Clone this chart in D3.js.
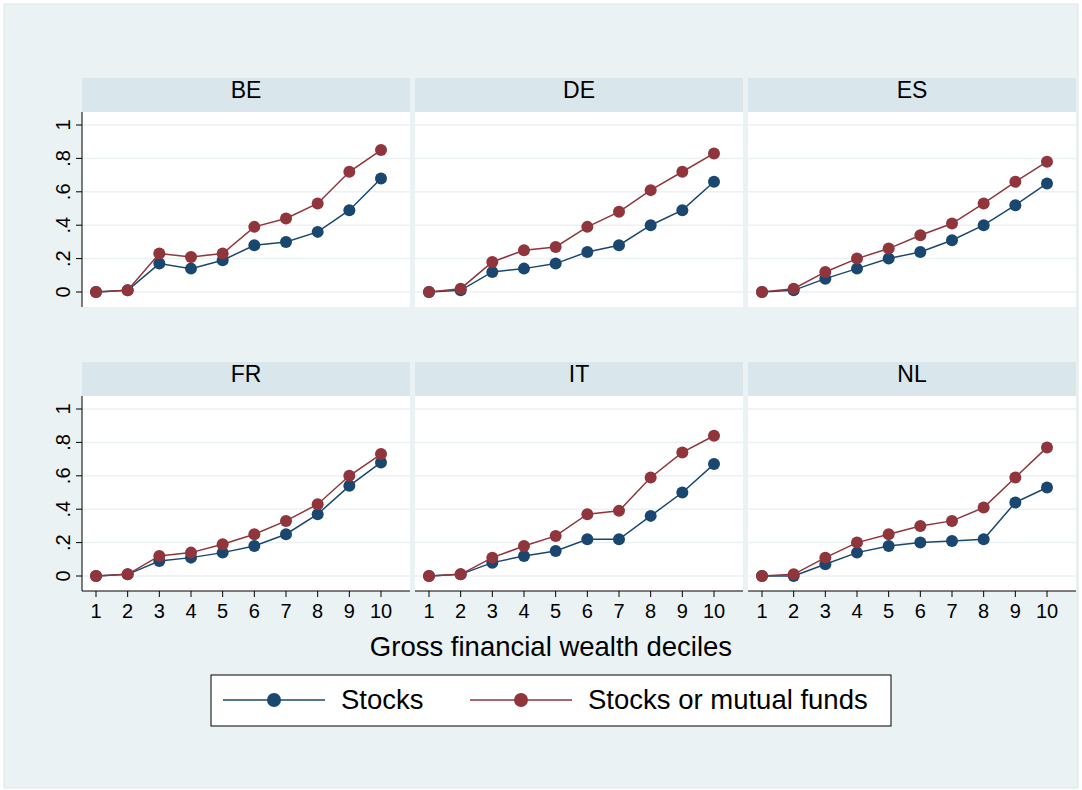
<!DOCTYPE html>
<html><head><meta charset="UTF-8">
<script src="https://d3js.org/d3.v7.min.js"></script>
<style>body{margin:0;background:#fff}svg{font-family:Arial,"Liberation Sans",sans-serif}</style>
</head><body>
<svg id="c" width="1082" height="790"></svg>
<script>
const countries = ["BE","DE","ES","FR","IT","NL"];
const deciles = [1,2,3,4,5,6,7,8,9,10];
const yTicks = [0,0.2,0.4,0.6,0.8,1];
const yTickLabels = ["0",".2",".4",".6",".8","1"];
const stocks = {
  BE:[0,.01,.17,.14,.19,.28,.30,.36,.49,.68],
  DE:[0,.01,.12,.14,.17,.24,.28,.40,.49,.66],
  ES:[0,.01,.08,.14,.20,.24,.31,.40,.52,.65],
  FR:[0,.01,.09,.11,.14,.18,.25,.37,.54,.68],
  IT:[0,.01,.08,.12,.15,.22,.22,.36,.50,.67],
  NL:[0,0,.07,.14,.18,.20,.21,.22,.44,.53]
};
const mutual = {
  BE:[0,.01,.23,.21,.23,.39,.44,.53,.72,.85],
  DE:[0,.02,.18,.25,.27,.39,.48,.61,.72,.83],
  ES:[0,.02,.12,.20,.26,.34,.41,.53,.66,.78],
  FR:[0,.01,.12,.14,.19,.25,.33,.43,.60,.73],
  IT:[0,.01,.11,.18,.24,.37,.39,.59,.74,.84],
  NL:[0,.01,.11,.20,.25,.30,.33,.41,.59,.77]
};
const series = [
  {name:"Stocks", data:stocks, color:"#1a476f"},
  {name:"Stocks or mutual funds", data:mutual, color:"#90353b"}
];

const svg = d3.select("#c");
svg.append("rect").attr("x",4).attr("y",4).attr("width",1074).attr("height",784)
  .attr("fill","#eaf2f3").attr("stroke","#dde6e8");

const pw = 328, ph = 195, hh = 34;
const colX = [82,415,748], rowY = [112,396];
const x = d3.scaleLinear().domain([1,10]).range([14,299]);
const y = d3.scaleLinear().domain([0,1]).range([180,13]);

countries.forEach((c,i)=>{
  const col = i%3, row = Math.floor(i/3);
  const g = svg.append("g").attr("transform",`translate(${colX[col]},${rowY[row]})`);
  g.append("rect").attr("y",-hh).attr("width",pw).attr("height",hh).attr("fill","#d9e6eb");
  g.append("text").attr("x",pw/2).attr("y",-hh/2+3).attr("text-anchor","middle")
    .attr("font-size",23).text(c);
  g.append("rect").attr("width",pw).attr("height",ph).attr("fill","#fff");
  g.selectAll(".grid").data(yTicks).enter().append("line")
    .attr("x1",0).attr("x2",pw).attr("y1",d=>y(d)).attr("y2",d=>y(d))
    .attr("stroke","#eaf2f3").attr("stroke-width",1.5);
  if(col===0){
    g.append("line").attr("x1",0).attr("x2",0).attr("y1",0).attr("y2",ph).attr("stroke","#000");
    yTicks.forEach((t,k)=>{
      g.append("line").attr("x1",-6).attr("x2",0).attr("y1",y(t)).attr("y2",y(t)).attr("stroke","#000");
      g.append("text").attr("transform",`translate(-12,${y(t)}) rotate(-90)`)
        .attr("text-anchor","middle").attr("font-size",20).text(yTickLabels[k]);
    });
  }
  if(row===1){
    g.append("line").attr("x1",0).attr("x2",pw).attr("y1",ph).attr("y2",ph).attr("stroke","#000");
    deciles.forEach(d=>{
      g.append("line").attr("x1",x(d)).attr("x2",x(d)).attr("y1",ph).attr("y2",ph+6).attr("stroke","#000");
      g.append("text").attr("x",x(d)).attr("y",ph+27).attr("text-anchor","middle")
        .attr("font-size",20).text(d);
    });
  }
  const line = d3.line().x((v,k)=>x(deciles[k])).y(v=>y(v));
  series.forEach(s=>{
    g.append("path").attr("d",line(s.data[c])).attr("fill","none")
      .attr("stroke",s.color).attr("stroke-width",1.5);
    g.selectAll(null).data(s.data[c]).enter().append("circle")
      .attr("cx",(v,k)=>x(deciles[k])).attr("cy",v=>y(v)).attr("r",6).attr("fill",s.color);
  });
});

svg.append("text").attr("x",551).attr("y",656).attr("text-anchor","middle")
  .attr("font-size",27.5).text("Gross financial wealth deciles");

const lg = svg.append("g").attr("transform","translate(211,675)");
lg.append("rect").attr("width",680).attr("height",51).attr("fill","#fff").attr("stroke","#000");
[[12,"Stocks",0],[259,"Stocks or mutual funds",1]].forEach(([lx,t,k])=>{
  lg.append("line").attr("x1",lx).attr("x2",lx+102).attr("y1",25).attr("y2",25)
    .attr("stroke",series[k].color).attr("stroke-width",1.5);
  lg.append("circle").attr("cx",lx+51).attr("cy",25).attr("r",7).attr("fill",series[k].color);
  lg.append("text").attr("x",lx+118).attr("y",34).attr("font-size",27.5).text(t);
});
</script>
</body></html>
